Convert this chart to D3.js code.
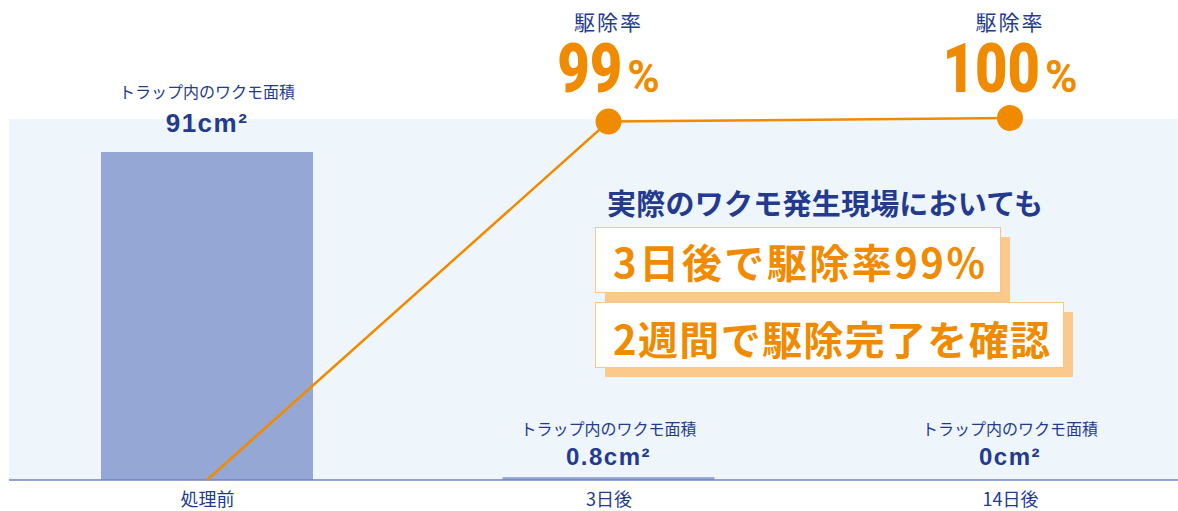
<!DOCTYPE html>
<html>
<head>
<meta charset="utf-8">
<script src="https://cdn.jsdelivr.net/npm/d3@7"></script>
<style>
  body { margin: 0; background: #fff; }
  text { font-family: "Noto Sans CJK JP", "Noto Sans", sans-serif; }
  .num { font-family: "Liberation Sans", Arial, sans-serif; font-weight: bold; }
</style>
</head>
<body>
<svg id="chart" width="1178" height="511"></svg>
<script>
// data
const categories = ['処理前', '3日後', '14日後'];
const areaValues = [91, 0.8, 0];          // cm²
const areaLabels = ['91', '0.8', '0'];
const rateValues = [0, 99, 100];           // 駆除率 %
const rateLabels = [null, '99', '100'];
const areaTitle = 'トラップ内のワクモ面積';
const rateTitle = '駆除率';
const headline = '実際のワクモ発生現場においても';
const callouts = ['3日後で駆除率99%', '2週間で駆除完了を確認'];

const navy = '#233a8e';
const orange = '#f08b00';

const svg = d3.select('#chart');
const baseY = 480;

const xScale = d3.scalePoint()
  .domain(categories)
  .range([207, 1010]);
const barW = 212;

const yArea = d3.scaleLinear()
  .domain([0, 91])
  .range([baseY, 152]);

const yRate = d3.scaleLinear()
  .domain([0, 100])
  .range([baseY, 118]);

// background panel
svg.append('rect')
  .attr('x', 9).attr('y', 119)
  .attr('width', 1178 - 9).attr('height', baseY - 119)
  .attr('fill', '#eef6fc');

// bars
svg.selectAll('rect.bar').data(areaValues)
  .enter().append('rect')
    .attr('class', 'bar')
    .attr('x', (d, i) => xScale(categories[i]) - barW / 2)
    .attr('y', d => yArea(d))
    .attr('width', barW)
    .attr('height', d => baseY - yArea(d))
    .attr('fill', '#95a7d4');

// baseline + category labels
const xAxisG = svg.append('g')
  .attr('transform', `translate(0, ${baseY})`);
xAxisG.call(d3.axisBottom(xScale).tickSize(0).tickPadding(13));
xAxisG.select('.domain').remove();
xAxisG.append('line')
  .attr('x1', 9).attr('x2', 1178)
  .attr('stroke', '#7282c2').attr('stroke-width', 1.5);
xAxisG.selectAll('.tick text')
  .attr('fill', navy)
  .style('font-family', '"Noto Sans CJK JP", sans-serif')
  .style('font-size', '18px');

// area labels (big bar: label above top, tiny bars: label above baseline)
const labelY = d => d > 10 ? yArea(d) - 20 : baseY - 15;
const areaG = svg.selectAll('g.area-label').data(areaValues)
  .enter().append('g')
    .attr('class', 'area-label')
    .attr('transform', (d, i) => `translate(${xScale(categories[i])}, ${labelY(d)})`);
areaG.append('text')
  .attr('y', d => d > 10 ? -34 : -30)
  .attr('text-anchor', 'middle')
  .attr('fill', navy)
  .style('font-size', '16px')
  .text(areaTitle);
areaG.append('text')
  .attr('class', 'num')
  .attr('y', 0)
  .attr('text-anchor', 'middle')
  .attr('fill', navy)
  .style('font-size', d => d > 10 ? '26px' : '24px')
  .style('letter-spacing', '1.5px')
  .text((d, i) => areaLabels[i] + 'cm²');

// rate line
const line = d3.line()
  .x((d, i) => xScale(categories[i]))
  .y(d => yRate(d));
svg.append('path')
  .datum(rateValues)
  .attr('d', line)
  .attr('fill', 'none')
  .attr('stroke', orange)
  .attr('stroke-width', 2.5);

const rateG = svg.selectAll('g.rate').data(rateValues.slice(1))
  .enter().append('g')
    .attr('class', 'rate')
    .attr('transform', (d, i) => `translate(${xScale(categories[i + 1])}, ${yRate(d)})`);
rateG.append('circle')
  .attr('r', 13)
  .attr('fill', orange);
rateG.append('text')
  .attr('y', d => 30 - yRate(d))
  .attr('text-anchor', 'middle')
  .attr('fill', navy)
  .style('font-size', '21px')
  .style('letter-spacing', '2px')
  .text(rateTitle);
const pct = rateG.append('text')
  .attr('y', d => 92 - yRate(d))
  .attr('text-anchor', 'middle')
  .attr('fill', orange)
  .style('font-family', 'Roboto, sans-serif')
  .style('font-weight', 900);
pct.append('tspan')
  .style('font-size', '68px')
  .attr('textLength', (d, i) => rateLabels[i + 1].length * 32.5)
  .attr('lengthAdjust', 'spacingAndGlyphs')
  .text((d, i) => rateLabels[i + 1]);
pct.append('tspan')
  .attr('dx', 5)
  .style('font-size', '44px')
  .style('font-weight', 700)
  .text('%');

// callout
const callG = svg.append('g');
callG.append('text')
  .attr('x', 607).attr('y', 215)
  .attr('fill', navy)
  .style('font-size', '29px')
  .style('font-weight', 700)
  .attr('textLength', 436)
  .attr('lengthAdjust', 'spacing')
  .text(headline);

const boxes = [
  { y: 227, w: 405, tw: 372, base: 278 },
  { y: 302, w: 468, tw: 437, base: 355 }
];
callouts.forEach((t, i) => {
  const b = boxes[i];
  callG.append('rect')
    .attr('x', 605).attr('y', b.y + 10)
    .attr('width', b.w).attr('height', 65)
    .attr('fill', '#fbc98b');
  callG.append('rect')
    .attr('x', 595.5).attr('y', b.y + 0.5)
    .attr('width', b.w).attr('height', 65)
    .attr('fill', '#fff')
    .attr('stroke', '#f8c686').attr('stroke-width', 1);
  callG.append('text')
    .attr('x', 613).attr('y', b.base)
    .attr('fill', orange)
    .style('font-size', '40px')
    .style('font-weight', 700)
    .attr('textLength', b.tw)
    .attr('lengthAdjust', 'spacing')
    .text(t);
});
</script>
</body>
</html>
